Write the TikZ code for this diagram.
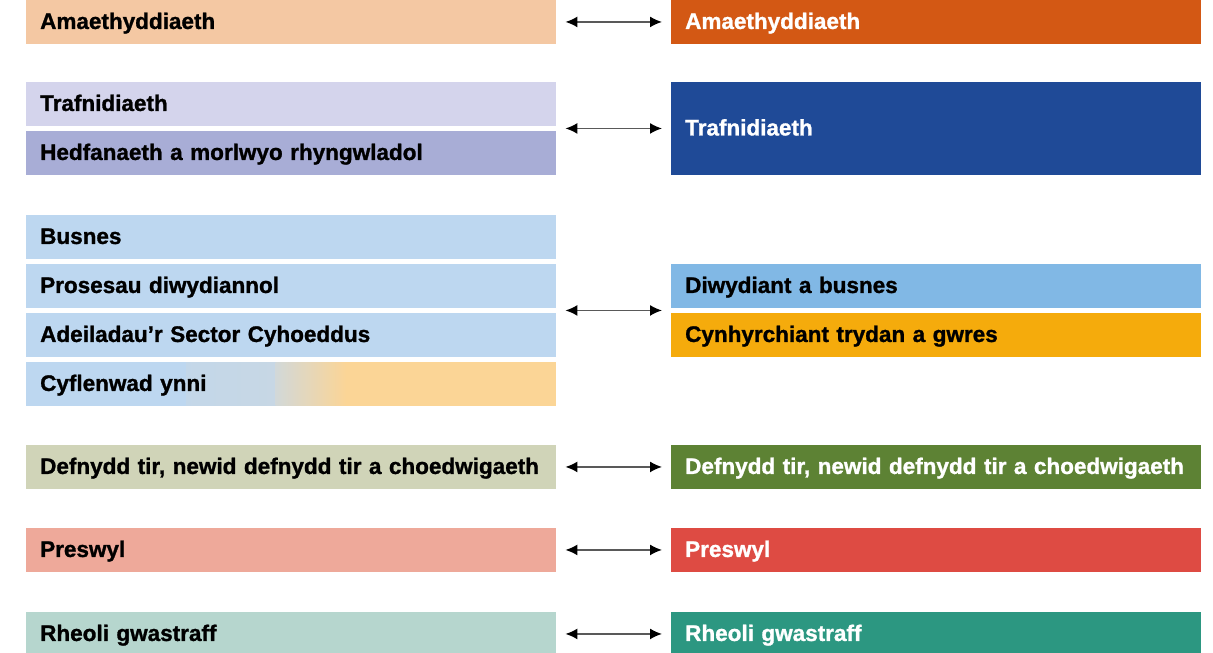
\documentclass[tikz,border=0pt]{standalone}
\usepackage{fontspec}
\setmainfont{Liberation Sans}[BoldFeatures={FakeBold=1.2}]
\usetikzlibrary{arrows.meta,calc}
\definecolor{amL}{HTML}{F4C8A3}
\definecolor{amR}{HTML}{D35814}
\definecolor{trL}{HTML}{D4D4EC}
\definecolor{heL}{HTML}{A8ADD6}
\definecolor{trR}{HTML}{1F4A97}
\definecolor{buL}{HTML}{BDD7F0}
\definecolor{orL}{HTML}{FBD596}
\definecolor{diR}{HTML}{81B8E5}
\definecolor{cyR}{HTML}{F5AB0C}
\definecolor{deL}{HTML}{D0D4B8}
\definecolor{deR}{HTML}{5D8234}
\definecolor{prL}{HTML}{EEA99A}
\definecolor{prR}{HTML}{DE4B43}
\definecolor{rhL}{HTML}{B6D6CE}
\definecolor{rhR}{HTML}{2C9781}
\definecolor{midG}{HTML}{D2D8D8}
\tikzset{
  bar/.style={rectangle, anchor=north west, minimum width=530pt, minimum height=43.5pt,
    inner xsep=14pt, inner ysep=0pt, text width=502pt, align=left,
    text height=15pt, text depth=1pt, font=\fontsize{22.5pt}{26pt}\selectfont\bfseries},
  lbar/.style={bar, text=black},
  rbar/.style={bar, text=white},
  link/.style={draw={black!65}, line width=1.6pt, {Latex[length=12pt,width=11pt,color=black]}-{Latex[length=12pt,width=11pt,color=black]}, shorten <=9pt, shorten >=9pt}
}
\begin{document}
\begin{tikzpicture}
\useasboundingbox (0pt,0pt) rectangle (1213pt,-653pt);
% left column
\node[lbar, fill=amL] (amLn) at (26pt,0pt) {Amaethyddiaeth};
\node[lbar, fill=trL] (trLn) at (26pt,-82pt) {Trafnidiaeth};
\node[lbar, fill=heL] (heLn) at (26pt,-131pt) {Hedfanaeth a morlwyo rhyngwladol};
\node[lbar, fill=buL] (buLn) at (26pt,-215pt) {Busnes};
\node[lbar, fill=buL] (psLn) at (26pt,-264pt) {Prosesau diwydiannol};
\node[lbar, fill=buL] (adLn) at (26pt,-313pt) {Adeiladau’r Sector Cyhoeddus};
\node[lbar, fill=buL, path picture={
   \shade[left color=buL, right color=midG]
     ([xshift=160pt]path picture bounding box.south west) rectangle
     ([xshift=250pt]path picture bounding box.north west);
   \shade[left color=midG, right color=orL]
     ([xshift=249.5pt]path picture bounding box.south west) rectangle
     ([xshift=320pt]path picture bounding box.north west);
   \fill[orL] ([xshift=319.5pt]path picture bounding box.south west) rectangle
     (path picture bounding box.north east);
 }] (cyLn) at (26pt,-362pt) {Cyflenwad ynni};
\node[lbar, fill=deL] (deLn) at (26pt,-445pt) {Defnydd tir, newid defnydd tir a choedwigaeth};
\node[lbar, fill=prL] (prLn) at (26pt,-528pt) {Preswyl};
\node[lbar, fill=rhL] (rhLn) at (26pt,-612pt) {Rheoli gwastraff};
% right column
\node[rbar, fill=amR] (amRn) at (671pt,0pt) {Amaethyddiaeth};
\node[rbar, fill=trR, minimum height=92.5pt] (trRn) at (671pt,-82pt) {Trafnidiaeth};
\node[lbar, fill=diR] (diRn) at (671pt,-264pt) {Diwydiant a busnes};
\node[lbar, fill=cyR] (cyRn) at (671pt,-313pt) {Cynhyrchiant trydan a gwres};
\node[rbar, fill=deR] (deRn) at (671pt,-445pt) {Defnydd tir, newid defnydd tir a choedwigaeth};
\node[rbar, fill=prR] (prRn) at (671pt,-528pt) {Preswyl};
\node[rbar, fill=rhR] (rhRn) at (671pt,-612pt) {Rheoli gwastraff};
% connectors
\coordinate (trMid) at ($(trLn.south east)!0.5!(heLn.north east)$);
\coordinate (buMid) at ($(psLn.south east)!0.5!(adLn.north east)$);
\coordinate (rbMid) at ($(diRn.south west)!0.5!(cyRn.north west)$);
\draw[link] (amLn.east) -- (amRn.west);
\draw[link] (trMid) -- (trMid -| trRn.west);
\draw[link] (buMid) -- (rbMid);
\draw[link] (deLn.east) -- (deRn.west);
\draw[link] (prLn.east) -- (prRn.west);
\draw[link] (rhLn.east) -- (rhRn.west);
\end{tikzpicture}
\end{document}
